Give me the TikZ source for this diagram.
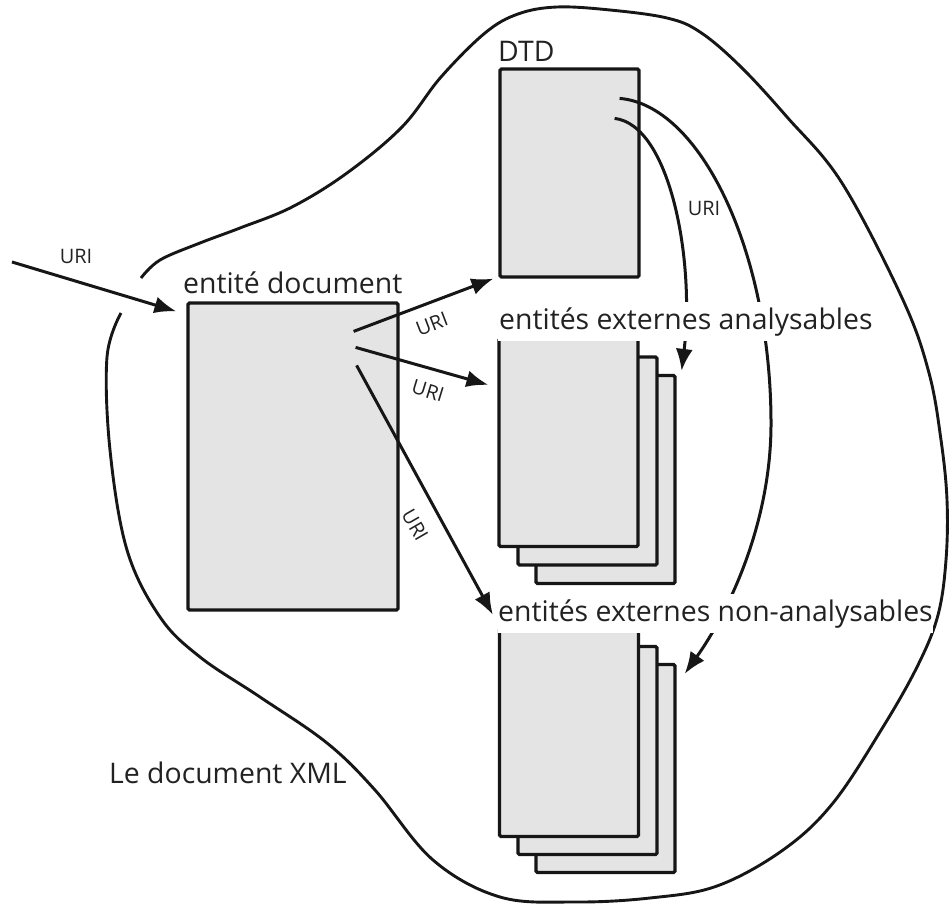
\documentclass[tikz,border=0pt]{standalone}
\usepackage{fontspec}
\setmainfont{Open Sans}
\usetikzlibrary{arrows.meta,calc}
\definecolor{ink}{HTML}{161616}
\definecolor{paper}{HTML}{E4E4E4}
\definecolor{txt}{HTML}{222222}
\begin{document}
\begin{tikzpicture}[x=1bp,y=-1bp,
  sheet/.style={draw=ink,line width=3.2bp,fill=paper,rounded corners=1.5bp,inner sep=0pt,
                minimum width=139bp,minimum height=208bp},
  link/.style={draw=ink,line width=3bp,-{Latex[length=22bp,width=17bp]}},
  title/.style={font=\fontsize{28.5}{31}\selectfont,text=txt,anchor=base west,inner sep=1bp},
  uri/.style={font=\fontsize{20}{23}\selectfont,text=txt,inner sep=0.5bp}]
\useasboundingbox (0,0) rectangle (951,904);

% outline of the XML document
\draw[ink,line width=2.9bp] plot[smooth,tension=0.6] coordinates {
  (121,313) (107,357) (110,450) (127,550) (160,617) (200,657) (260,697)
  (327,743) (375,790) (433,860) (500,897) (575,902) (650,898) (717,886)
  (783,850) (833,803) (883,727) (918,665) (938,615) (946,560) (947,500)
  (941,440) (929,373) (903,300) (842,183) (787,117) (740,66) (700,32) (667,18)
  (610,10) (557,7) (518,14) (485,33) (441,77) (402,127) (347,173)
  (292,207) (240,228) (200,243) (160,260) (141,278)};

% document entity
\node[sheet,minimum width=210bp,minimum height=307bp] (doc) at (293,456.5) {};
% DTD
\node[sheet] (dtd) at (569.5,173) {};
% parsed external entities (stack of three)
\node[sheet] (ext3) at (605.5,479.5) {};
\node[sheet] (ext2) at (587.5,461) {};
\node[sheet] (ext1) at (568.5,442.5) {};
% unparsed external entities (stack of three)
\node[sheet] (non3) at (605.5,768.5) {};
\node[sheet] (non2) at (587.5,750.5) {};
\node[sheet] (non1) at (569,732.5) {};

% incoming reference
\coordinate (src) at (12,262);
\draw[link] (src) -- ($(doc.north west)+(-10,10)$);
\node[uri] at (76,256) {URI};

% references from the document entity
\draw[link] ($(doc.north east)+(-46,30)$) -- ($(dtd.south west)+(-5,0)$);
\draw[link] ($(doc.north east)+(-44,46)$) -- ($(ext1.north west)+(-9,48)$);
\draw[link] ($(doc.north east)+(-43,64)$) -- ($(non1.north west)+(-5,-12)$);
\node[uri,rotate=21] at (432,324) {URI};
\node[uri,rotate=-17] at (428,391) {URI};
\node[uri,rotate=-60] at (415,525) {URI};

% references from the DTD
\draw[link] ($(dtd.north east)+(-26,51)$) .. controls (670,125) and (695,260) .. ($(ext3.north east)+(5,-3)$);
\draw[link] ($(dtd.north east)+(-21,31)$) .. controls (700,105) and (770,250) .. (771,420)
  .. controls (772,520) and (730,610) .. ($(non3.north east)+(8,11)$);
\node[uri] at (704,208) {URI};

% labels
\node[title] (tdoc) at (182,293) {entité document};
\node[title] (tdtd) at (497,61) {DTD};
\node[title,fill=white,inner ysep=5bp] (text) at (498,329) {entités externes analysables};
\node[title,fill=white,inner ysep=5bp,inner xsep=0pt] (tnon) at (498,621) {entités externes non-analysables};
\node[title] (txml) at (108,783) {Le document XML};
\end{tikzpicture}
\end{document}
